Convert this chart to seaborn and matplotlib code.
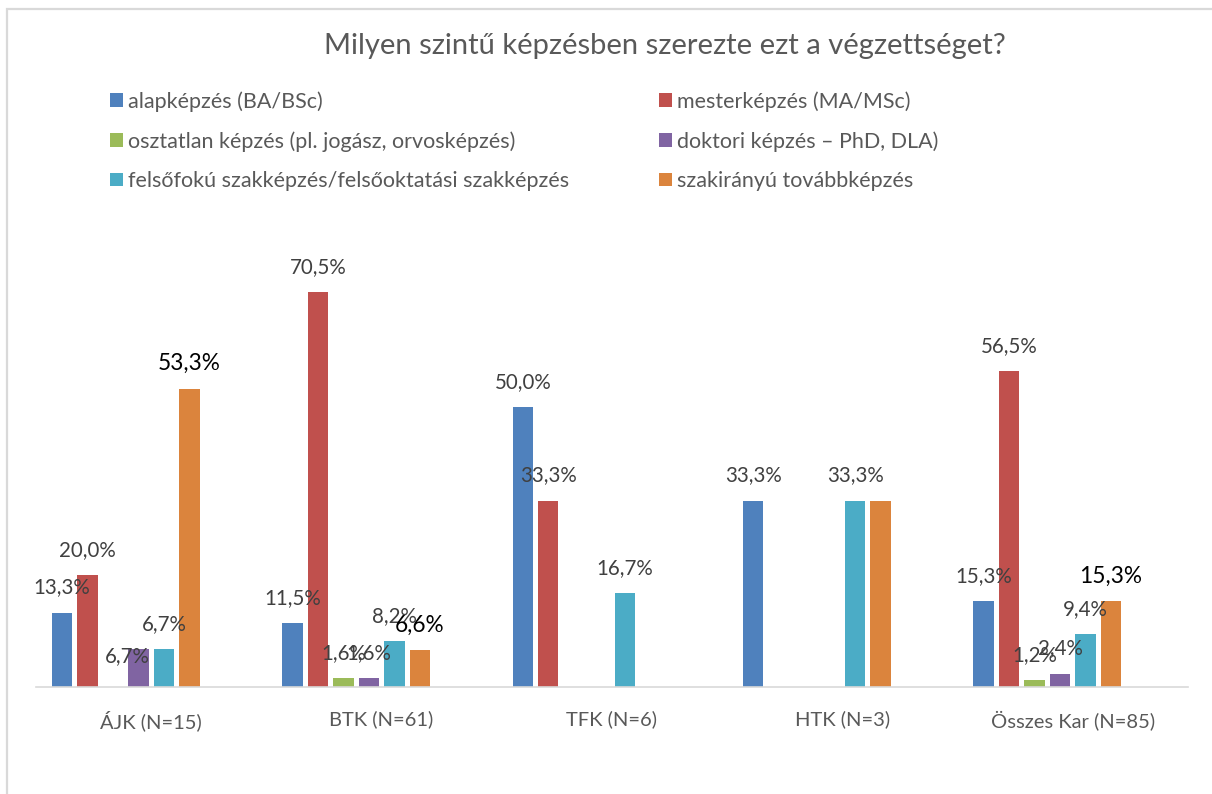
import matplotlib
matplotlib.use("Agg")
import matplotlib.pyplot as plt
import seaborn as sns
import pandas as pd
import numpy as np
from matplotlib.patches import Patch, Rectangle

# ---- data ----
categories = ["ÁJK (N=15)", "BTK (N=61)", "TFK (N=6)", "HTK (N=3)", "Összes Kar (N=85)"]
series = [
    "alapképzés (BA/BSc)",
    "mesterképzés (MA/MSc)",
    "osztatlan képzés (pl. jogász, orvosképzés)",
    "doktori képzés – PhD, DLA)",
    "felsőfokú szakképzés/felsőoktatási szakképzés",
    "szakirányú továbbképzés",
]
alap = [13.3, 11.5, 50.0, 33.3, 15.3]
mester = [20.0, 70.5, 33.3, 0.0, 56.5]
osztatlan = [0.0, 1.6, 0.0, 0.0, 1.2]
doktori = [6.7, 1.6, 0.0, 0.0, 2.4]
felso = [6.7, 8.2, 16.7, 33.3, 9.4]
szak = [53.3, 6.6, 0.0, 33.3, 15.3]
values = [alap, mester, osztatlan, doktori, felso, szak]

colors = ["#4F81BD", "#C0504D", "#9BBB59", "#8064A2", "#4BACC6", "#DB843D"]
# two empty series in the source workbook reserve space in each group
pad_levels = ["_pad1", "_pad2"]

rows = []
for s, vals in zip(series, values):
    for c, v in zip(categories, vals):
        rows.append({"kar": c, "szint": s, "pct": v})
df = pd.DataFrame(rows)

sns.set_theme(style="white")
plt.rcParams["font.family"] = ["Lato", "DejaVu Sans"]

fig = plt.figure(figsize=(12.12, 7.94), dpi=100)
ax = fig.add_axes([36 / 1212, 1 - 687 / 794, (1188 - 36) / 1212, 448 / 794])

group_width = 0.885
palette = dict(zip(series + pad_levels, colors + ["#ffffff", "#ffffff"]))
sns.barplot(data=df, x="kar", y="pct", hue="szint", order=categories,
            hue_order=series + pad_levels, palette=palette, saturation=1,
            width=group_width, gap=0.2, linewidth=0, legend=False, ax=ax)

ax.set_xlim(-0.5, 4.5)
ax.set_ylim(0, 80)
ax.set_xlabel("")
ax.set_ylabel("")
ax.set_yticks([])
for sp in ["top", "right", "left"]:
    ax.spines[sp].set_visible(False)
ax.spines["bottom"].set_color("#D9D9D9")
ax.spines["bottom"].set_linewidth(1.2)
ax.tick_params(axis="x", length=0, pad=17, labelsize=14.5, labelcolor="#595959")

# value labels
skip = {("HTK (N=3)", "szakirányú továbbképzés")}
nudge = {("ÁJK (N=15)", "doktori képzés – PhD, DLA)"): (-11, -32)}
nlev = len(series) + len(pad_levels)
slot = group_width / nlev
for si, s in enumerate(series):
    for ci, c in enumerate(categories):
        v = values[si][ci]
        if v <= 0 or (c, s) in skip:
            continue
        xc = ci - group_width / 2 + slot * (si + 0.5)
        dx, dy = nudge.get((c, s), (0, 0))
        bold = (s == "szakirányú továbbképzés")
        ax.annotate(f"{v:.1f}%".replace(".", ","), xy=(xc, v),
                    xytext=(dx, 25 + dy), textcoords="offset pixels",
                    ha="center", va="center",
                    fontsize=16.3 if bold else 14.8,
                    color="#000000" if bold else "#404040",
                    annotation_clip=False)

# title
fig.text(665 / 1212, 1 - 46 / 794, "Milyen szintű képzésben szerezte ezt a végzettséget?",
         ha="center", va="center", fontsize=21, color="#595959")

# legend: two columns
col1 = [0, 2, 4]
col2 = [1, 3, 5]
for idxs, x0 in [(col1, 110 / 1212), (col2, 659 / 1212)]:
    handles = [Patch(facecolor=colors[i], edgecolor="none") for i in idxs]
    fig.legend(handles, [series[i] for i in idxs], loc="upper left",
               bbox_to_anchor=(x0, 1 - 91 / 794), frameon=False,
               fontsize=15.5, labelcolor="#595959", handlelength=0.6,
               handleheight=0.6, handletextpad=0.25, labelspacing=0.9,
               borderaxespad=0, borderpad=0)

# chart area border
fig.patches.append(Rectangle((6.5 / 1212, -0.1), 1.2, 1 - 8.5 / 794 + 0.1,
                             transform=fig.transFigure, fill=False,
                             edgecolor="#D9D9D9", linewidth=1.6))

fig.savefig("out.png", dpi=100)
